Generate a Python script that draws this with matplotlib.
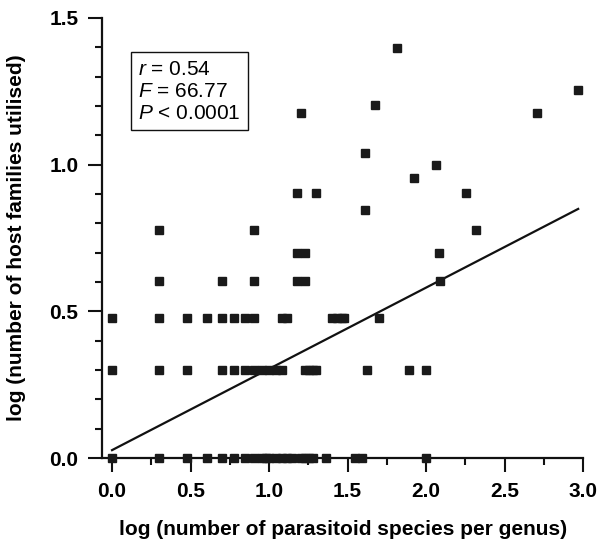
import numpy as np
import matplotlib
matplotlib.use("Agg")
import matplotlib.pyplot as plt
from matplotlib.ticker import MultipleLocator

plt.rcParams['font.family'] = ['Liberation Sans', 'DejaVu Sans']
plt.rcParams['mathtext.fontset'] = 'custom'
plt.rcParams['mathtext.rm'] = 'Liberation Sans'
plt.rcParams['mathtext.it'] = 'Liberation Sans:italic'

# log(number of parasitoid species per genus), grouped by log(host families)
host_levels = [0.0, 0.301, 0.477, 0.602, 0.699, 0.778, 0.845, 0.903,
               0.954, 1.0, 1.041, 1.176, 1.204, 1.255, 1.398]
x_h000 = [0.0, 0.301, 0.477, 0.602, 0.699, 0.778, 0.845, 0.903, 0.954, 0.978,
          1.0, 1.041, 1.079, 1.114, 1.146, 1.204, 1.23, 1.255, 1.279, 1.362,
          1.544, 1.591, 2.0]
x_h030 = [0.0, 0.301, 0.477, 0.699, 0.778, 0.845, 0.903, 0.954, 1.0, 1.041,
          1.079, 1.23, 1.255, 1.279, 1.301, 1.623, 1.892, 2.0]
x_h048 = [0.0, 0.301, 0.477, 0.602, 0.699, 0.778, 0.845, 0.903, 1.079, 1.114,
          1.398, 1.431, 1.462, 1.477, 1.699]
x_h060 = [0.301, 0.699, 0.903, 1.176, 1.23, 2.09]
x_h070 = [1.176, 1.23, 2.079]
x_h078 = [0.301, 0.903, 2.318]
x_h085 = [1.613]
x_h090 = [1.176, 1.301, 2.255]
x_h095 = [1.924]
x_h100 = [2.061]
x_h104 = [1.613]
x_h118 = [1.204, 2.708]
x_h120 = [1.672]
x_h126 = [2.968]
x_h140 = [1.813]
x_groups = [x_h000, x_h030, x_h048, x_h060, x_h070, x_h078, x_h085, x_h090,
            x_h095, x_h100, x_h104, x_h118, x_h120, x_h126, x_h140]

# regression fit
fit_intercept = 0.027
fit_slope = 0.277
stats_text = "$r$ = 0.54\n$F$ = 66.77\n$P$ < 0.0001"

xs = []
ys = []
for level, grp in zip(host_levels, x_groups):
    xs += grp
    ys += [level] * len(grp)
xs = np.array(xs)
ys = np.array(ys)

fig = plt.figure(figsize=(6.0, 5.44), dpi=100)
ax = fig.add_axes([0.17, 0.158, 0.802, 0.809])

ax.plot(xs, ys, 's', color='#1a1a1a', markersize=5.3, clip_on=False, zorder=3)
lx = np.array([xs.min(), xs.max()])
ax.plot(lx, fit_intercept + fit_slope * lx, color='#111111', lw=1.6)

ax.set_xlim(-0.064, 3.0)
ax.set_ylim(0, 1.5)
ax.spines['top'].set_visible(False)
ax.spines['right'].set_visible(False)
for s in ['left', 'bottom']:
    ax.spines[s].set_linewidth(1.6)
    ax.spines[s].set_color('#111111')

ax.xaxis.set_major_locator(MultipleLocator(0.5))
ax.xaxis.set_minor_locator(MultipleLocator(0.25))
ax.yaxis.set_major_locator(MultipleLocator(0.5))
ax.yaxis.set_minor_locator(MultipleLocator(0.1))
ax.tick_params(which='major', length=10, width=1.5, direction='out',
               labelsize=15, pad=7, color='#111111')
ax.tick_params(which='minor', length=5, width=1.5, direction='out',
               color='#111111')
ax.xaxis.set_major_formatter(matplotlib.ticker.FormatStrFormatter('%.1f'))
ax.yaxis.set_major_formatter(matplotlib.ticker.FormatStrFormatter('%.1f'))
for lab in ax.get_xticklabels() + ax.get_yticklabels():
    lab.set_fontweight('bold')

ax.set_xlabel("log (number of parasitoid species per genus)", fontsize=15,
              fontweight='bold', labelpad=14)
ax.set_ylabel("log (number of host families utilised)", fontsize=15,
              fontweight='bold', labelpad=17)

ax.text(0.075, 0.905, stats_text, transform=ax.transAxes, fontsize=15,
        va='top', ha='left', linespacing=1.2,
        bbox=dict(boxstyle='square,pad=0.35', fc='white', ec='#111111', lw=1.0))

fig.savefig("out.png", dpi=100)
